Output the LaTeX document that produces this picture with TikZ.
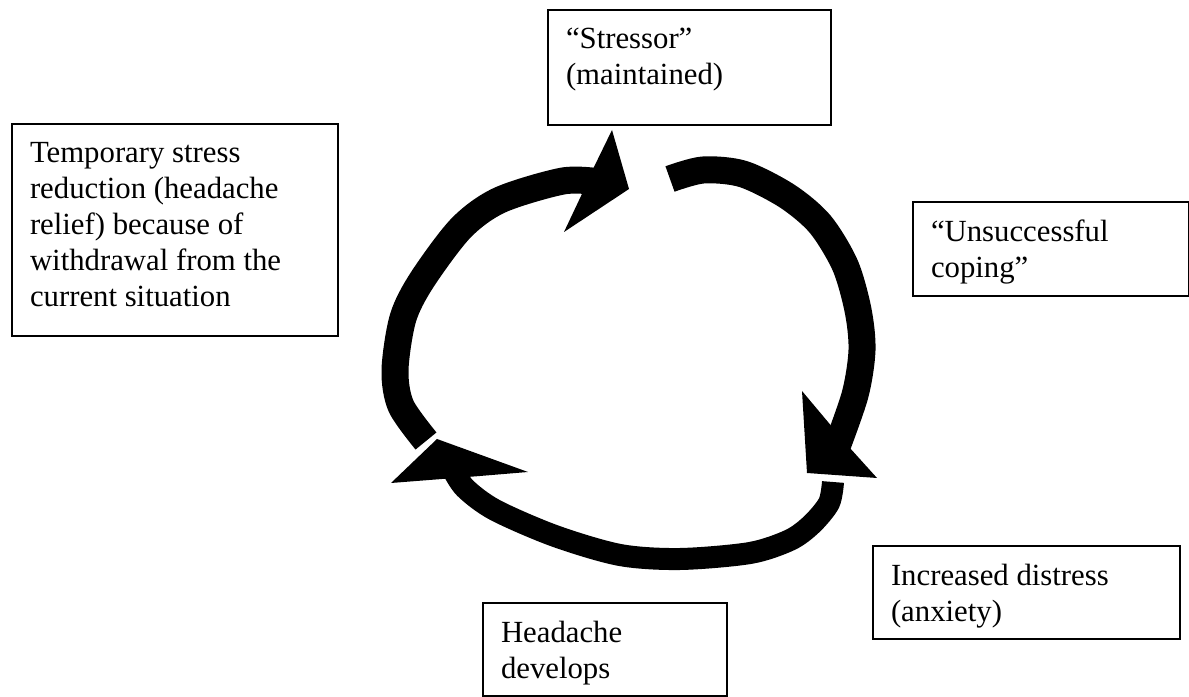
\documentclass[tikz,border=0pt]{standalone}
\usepackage{fontspec}
\setmainfont{Liberation Serif}
\def\boxtext#1#2#3{\parbox[t][#2][t]{#1}{\raggedright #3}}
\tikzset{
	box/.style={draw, line width=0.4mm, inner sep=3.6mm, anchor=north west, font=\fontsize{17.5}{20.5}\selectfont},
	band/.style={line width=5.4mm},
}

\begin{document}
\begin{tikzpicture}[x=0.2mm, y=-0.2mm]
		%%%%% START %%%%%
		\useasboundingbox (0,0) rectangle (1189,697);
		
		\node[box] (relief) at (11,123) {\boxtext{58mm}{35.2mm}{Temporary stress\\reduction (headache\\relief) because of\\withdrawal from the\\current situation}};
		\node[box] (stressor) at (547,9) {\boxtext{49.4mm}{15.8mm}{“Stressor”\\(maintained)}};
		\node[box] (coping) at (912,201) {\boxtext{48mm}{11.6mm}{“Unsuccessful\\coping”}};
		\node[box] (distress) at (872,545) {\boxtext{54.2mm}{11.4mm}{Increased distress\\(anxiety)}};
		\node[box] (headache) at (482,602) {\boxtext{41.6mm}{11.4mm}{Headache\\develops}};
		
		% left part, up to the stressor
		\draw[band] plot[smooth] coordinates {(426,441) (401,406) (395,370) (403,318) (422,280) (461,228) (500,200) (563,181) (600,182)};
		\fill (593,169) -- (612,130) -- (629,189) -- (564,232) -- (581,196) -- cycle;
		
		% right part, down to the distress
		\draw[band] plot[smooth] coordinates {(670,179) (703,170) (743,174) (787,196) (820,224) (845,265) (858,310) (862,350) (855,395) (835,452)};
		\fill (828,422) -- (802,391) -- (807,473) -- (877,478) -- (849,447) -- cycle;
		
		% bottom part, back to the left
		\draw[band, line width=4.4mm] plot[smooth] coordinates {(833,482) (829,503) (812,524) (790,540) (750,553) (680,559) (620,555) (555,536) (495,510) (465,488) (452,468)};
		\fill (480,476) -- (528,472) -- (437,439) -- (391,483) -- (442,479) -- cycle;
		
		%%%%% END %%%%%
\end{tikzpicture}
\end{document}
